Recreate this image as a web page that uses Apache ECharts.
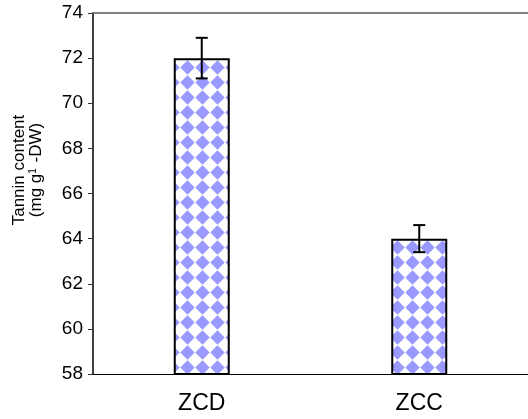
<!DOCTYPE html>
<html>
<head>
<meta charset="utf-8">
<script src="https://cdn.jsdelivr.net/npm/echarts@6/dist/echarts.min.js"></script>
<style>
  html, body { margin: 0; padding: 0; background: #fff; }
  #chart { width: 528px; height: 419px; }
</style>
</head>
<body>
<div id="chart"></div>
<script>
// data
const categories = ['ZCD', 'ZCC'];
const tannin = [72.0, 64.0];
const tanninErr = [0.9, 0.6];
const yTicks = { min: 58, max: 74, interval: 2 };

const FONT = '"Liberation Sans", Arial, sans-serif';

// blue diamond checker fill
function makePattern () {
  const s = 14.5;
  const c = document.createElement('canvas');
  c.width = 15; c.height = 15;
  const ctx = c.getContext('2d');
  ctx.fillStyle = '#fff';
  ctx.fillRect(0, 0, 15, 15);
  ctx.fillStyle = '#9999ff';
  ctx.beginPath();
  ctx.moveTo(7.5, 0.3);
  ctx.lineTo(14.7, 7.5);
  ctx.lineTo(7.5, 14.7);
  ctx.lineTo(0.3, 7.5);
  ctx.closePath();
  ctx.fill();
  return c;
}

const errData = categories.map((c, i) => [i, tannin[i] - tanninErr[i], tannin[i] + tanninErr[i]]);

const option = {
  animation: false,
  textStyle: { fontFamily: FONT },
  grid: { left: 93, top: 13, width: 440, height: 361 },
  xAxis: [
    {
      type: 'category',
      data: categories,
      axisLine: { lineStyle: { color: '#000', width: 1 } },
      axisTick: { length: 6, lineStyle: { color: '#666' } },
      axisLabel: { color: '#000', fontSize: 23, margin: 18, fontFamily: FONT },
    },
    {
      type: 'category',
      position: 'top',
      data: categories,
      axisLine: { show: true, lineStyle: { color: '#808080', width: 2 } },
      axisTick: { show: false },
      axisLabel: { show: false },
    }
  ],
  yAxis: {
    type: 'value',
    min: yTicks.min,
    max: yTicks.max,
    interval: yTicks.interval,
    axisLine: { show: true, lineStyle: { color: '#000', width: 1.5 } },
    axisTick: { show: true, length: 5, lineStyle: { color: '#333' } },
    splitLine: { show: false },
    axisLabel: { color: '#000', fontSize: 19, margin: 10, fontFamily: FONT },
  },
  graphic: [{
    type: 'text',
    x: 28,
    y: 170,
    rotation: Math.PI / 2,
    style: {
      text: '{a|Tannin content}\n{a|(mg g}{s|1}{a| -DW)}',
      fill: '#000',
      align: 'center',
      verticalAlign: 'middle',
      rich: {
        a: { fontSize: 17, fontFamily: FONT, lineHeight: 17, fill: '#000' },
        s: { fontSize: 10, fontFamily: FONT, lineHeight: 17, verticalAlign: 'top', padding: [0, 1, 6, 0], fill: '#000' },
      }
    }
  }],
  series: [
    {
      type: 'bar',
      data: tannin,
      barWidth: 56,
      itemStyle: {
        color: { image: makePattern(), repeat: 'repeat' },
        borderColor: '#000',
        borderWidth: 2,
      },
    },
    {
      type: 'custom',
      data: errData,
      z: 10,
      renderItem: (params, api) => {
        const lo = api.coord([api.value(0), api.value(1)]);
        const hi = api.coord([api.value(0), api.value(2)]);
        const half = 6;
        const style = { stroke: '#000', lineWidth: 2 };
        return {
          type: 'group',
          children: [
            { type: 'line', shape: { x1: hi[0], y1: hi[1], x2: lo[0], y2: lo[1] }, style },
            { type: 'line', shape: { x1: hi[0] - half, y1: hi[1], x2: hi[0] + half, y2: hi[1] }, style },
            { type: 'line', shape: { x1: lo[0] - half, y1: lo[1], x2: lo[0] + half, y2: lo[1] }, style },
          ]
        };
      }
    }
  ]
};

const chart = echarts.init(document.getElementById('chart'));
chart.setOption(option);
</script>
</body>
</html>
